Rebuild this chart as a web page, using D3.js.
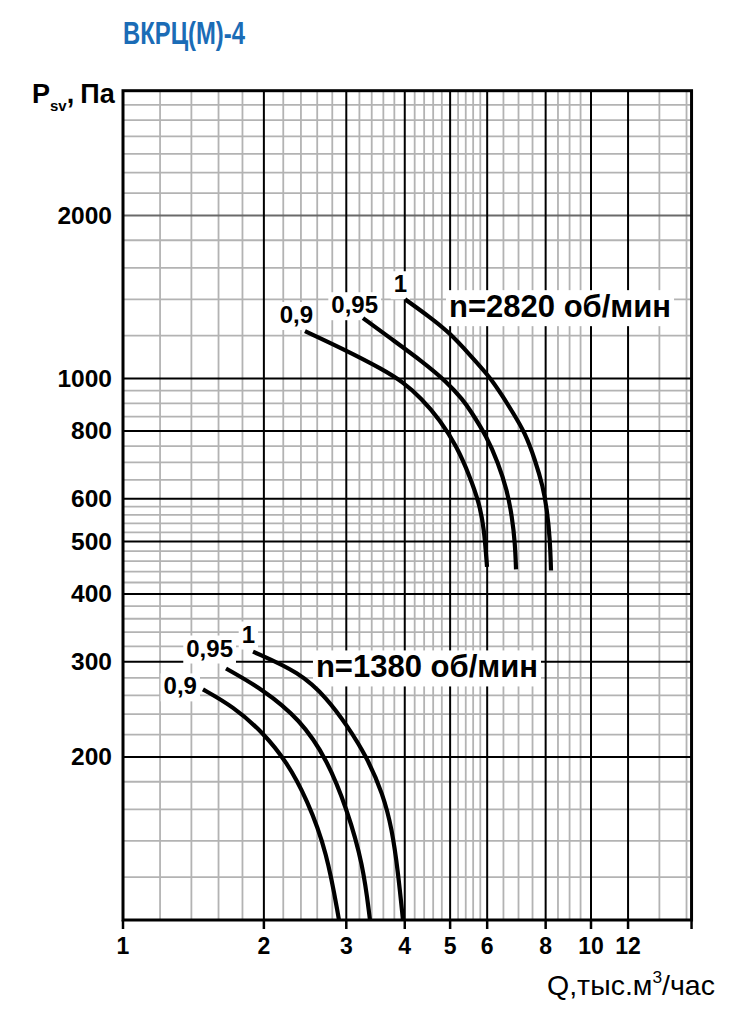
<!DOCTYPE html>
<html><head><meta charset="utf-8">
<script src="https://cdn.jsdelivr.net/npm/d3@7"></script>
<style>
body{margin:0;background:#fff}
svg{display:block}
text{font-family:"Liberation Sans",Arial,Helvetica,sans-serif}
</style>
</head><body>
<svg id="chart" width="750" height="1016"></svg>
<script>
// ---- axes / grid data ----
const xMajor = [2, 3, 4, 5, 6, 8, 10, 12];
const xMinor = [1.2, 1.4, 1.6, 1.8, 2.2, 2.4, 2.6, 2.8, 3.2, 3.4, 3.6, 3.8, 4.2, 4.4, 4.6, 4.8,
                5.2, 5.4, 5.6, 5.8, 6.5, 7, 7.5, 8.5, 9, 9.5, 14, 16];
const xTickLabels = [1, 2, 3, 4, 5, 6, 8, 10, 12];
const yMajor = [200, 300, 400, 500, 600, 800, 1000];
const yMid = [2000];
const yMinor = [120, 140, 160, 180, 220, 240, 260, 280, 320, 340, 360, 380, 420, 440, 460, 480,
                520, 540, 560, 580, 650, 700, 750, 850, 900, 950, 1200, 1400, 1600, 1800,
                2200, 2400, 2600, 2800, 3000, 3200];
const yTickLabels = [200, 300, 400, 500, 600, 800, 1000, 2000];
const xDomain = [1, 16.4];
const yDomain = [100, 3400];

// ---- curves: n = 2820 rpm ----
const hi100Q = [4.005, 4.529, 4.996, 5.514, 6.084, 6.486, 6.813, 7.228, 7.592, 7.898, 8.054, 8.174, 8.214];
const hi100P = [1401, 1298, 1213, 1105, 1006, 925, 864, 794, 708, 631, 572, 504, 442];
const hi095Q = [3.257, 3.721, 4.375, 4.923, 5.327, 5.514, 5.995, 6.329, 6.614, 6.780, 6.881, 6.915];
const hi095P = [1293, 1188, 1073, 985, 913, 875, 780, 699, 623, 556, 497, 444];
const hi090Q = [2.448, 2.952, 3.594, 3.965, 4.333, 4.757, 5.172, 5.514, 5.763, 5.906, 5.995];
const hi090P = [1223, 1134, 1039, 985, 920.5, 839, 748, 658, 590, 532, 449];
// ---- curves: n = 1380 rpm ----
const lo100Q = [1.896, 2.389, 2.729, 3.010, 3.322, 3.594, 3.757, 3.870, 3.965];
const lo100P = [313, 286.5, 256.6, 228.8, 199.8, 170.7, 147.2, 122.6, 100];
const lo095Q = [1.660, 1.991, 2.389, 2.729, 3.010, 3.257, 3.371];
const lo095P = [291.4, 266.6, 234.7, 198.1, 160.2, 126.9, 100];
const lo090Q = [1.482, 1.718, 1.991, 2.241, 2.473, 2.729, 2.894];
const lo090P = [266.6, 248, 222.1, 195.6, 167.1, 133.4, 100];

// ---- labels ----
const curveLabelText = ["0,9", "0,95", "1", "0,9", "0,95", "1"];
const curveLabelQ = [2.547, 3.507, 4.045, 1.439, 1.718, 1.915];
const curveLabelP = [1266, 1320, 1443, 261, 306.6, 325.4];
const speedText = ["n=2820 об/мин", "n=1380 об/мин"];
const speedQ = [4.973, 2.584];
const speedP = [1298, 280.5];

const svg = d3.select("#chart");
const x = d3.scaleLog().domain([1, 10]).range([123, 591]);
const y = d3.scaleLog().domain([100, 1000]).range([920, 378.5]);
const X0 = x(xDomain[0]), X1 = x(xDomain[1]), Y0 = y(yDomain[0]), Y1 = y(yDomain[1]);

const g = svg.append("g");
// minor grid
g.selectAll(".vmin").data(xMinor).join("line")
  .attr("x1", d => x(d)).attr("x2", d => x(d)).attr("y1", Y1).attr("y2", Y0)
  .attr("stroke", "#b3b3b3").attr("stroke-width", 1.8);
g.selectAll(".hmin").data(yMinor).join("line")
  .attr("x1", X0).attr("x2", X1).attr("y1", d => y(d)).attr("y2", d => y(d))
  .attr("stroke", "#b3b3b3").attr("stroke-width", 1.8);
g.selectAll(".hmid").data(yMid).join("line")
  .attr("x1", X0).attr("x2", X1).attr("y1", d => y(d)).attr("y2", d => y(d))
  .attr("stroke", "#6a6a6a").attr("stroke-width", 2);
// major grid
g.selectAll(".vmaj").data(xMajor).join("line")
  .attr("x1", d => x(d)).attr("x2", d => x(d)).attr("y1", Y1).attr("y2", Y0)
  .attr("stroke", "#000").attr("stroke-width", 2);
g.selectAll(".hmaj").data(yMajor).join("line")
  .attr("x1", X0).attr("x2", X1).attr("y1", d => y(d)).attr("y2", d => y(d))
  .attr("stroke", "#000").attr("stroke-width", 2);
// frame
g.append("rect").attr("x", X0).attr("y", Y1).attr("width", X1 - X0).attr("height", Y0 - Y1)
  .attr("fill", "none").attr("stroke", "#000").attr("stroke-width", 3);

// x ticks
const tickVals = xTickLabels.concat([xDomain[1]]);
g.selectAll(".xt").data(tickVals).join("line")
  .attr("x1", d => x(d)).attr("x2", d => x(d)).attr("y1", Y0).attr("y2", Y0 + 9)
  .attr("stroke", "#000").attr("stroke-width", 2.5);
g.selectAll(".xl").data(xTickLabels).join("text")
  .attr("x", d => x(d)).attr("y", 954).attr("text-anchor", "middle")
  .attr("font-size", 23).attr("font-weight", "bold").text(d => d);
g.selectAll(".yl").data(yTickLabels).join("text")
  .attr("x", 112).attr("y", d => y(d) + 8.5).attr("text-anchor", "end")
  .attr("font-size", 24.5).attr("font-weight", "bold").text(d => d);

// white label backgrounds then curves then text
const labels = [];
curveLabelText.forEach((t, i) => labels.push({t, q: curveLabelQ[i], p: curveLabelP[i], anchor: "end", size: 24}));
speedText.forEach((t, i) => labels.push({t, q: speedQ[i], p: speedP[i], anchor: "start", size: 31}));

const bgLayer = svg.append("g");
const curveLayer = svg.append("g");
const textLayer = svg.append("g");

const texts = textLayer.selectAll("text").data(labels).join("text")
  .attr("x", d => x(d.q)).attr("y", d => y(d.p))
  .attr("text-anchor", d => d.anchor).attr("font-size", d => d.size)
  .attr("font-weight", "bold").text(d => d.t);
texts.each(function() {
  const b = this.getBBox();
  bgLayer.append("rect").attr("x", b.x - 3).attr("y", b.y + 1).attr("width", b.width + 6).attr("height", b.height + 1)
    .attr("fill", "#fff");
});

const series = [[hi100Q, hi100P], [hi095Q, hi095P], [hi090Q, hi090P],
                [lo100Q, lo100P], [lo095Q, lo095P], [lo090Q, lo090P]];
const line = d3.line().x(d => x(d[0])).y(d => y(d[1])).curve(d3.curveBasis);
curveLayer.selectAll("path").data(series).join("path")
  .attr("d", s => line(s[0].map((q, i) => [q, s[1][i]])))
  .attr("fill", "none").attr("stroke", "#000").attr("stroke-width", 4.2);

// title
svg.append("text").attr("x", 123).attr("y", 44)
  .attr("font-family", "'Liberation Sans Narrow','Liberation Sans',Arial,sans-serif")
  .attr("font-size", 32).attr("font-weight", "bold").attr("fill", "#1b6cb6")
  .attr("textLength", 122).attr("lengthAdjust", "spacingAndGlyphs")
  .text("ВКРЦ(М)-4");

// y axis title (single text element with subscript)
const yt = svg.append("text").attr("x", 32).attr("y", 103).attr("font-weight", "bold").attr("font-size", 27);
yt.append("tspan").text("P");
yt.append("tspan").attr("font-size", 15).attr("dx", 0).attr("dy", 8).text("sv");
yt.append("tspan").attr("dy", -8).attr("dx", 0).text(",");
yt.append("tspan").attr("dx", 6).text("Па");

// x axis title
const xt = svg.append("text").attr("x", 547).attr("y", 995).attr("font-size", 28);
xt.append("tspan").text("Q,тыс.м");
xt.append("tspan").attr("font-size", 17).attr("dy", -12).text("3");
xt.append("tspan").attr("dy", 12).text("/час");
const w = xt.node().getComputedTextLength();
xt.attr("transform", `translate(547,0) scale(${168 / w},1) translate(-547,0)`);
</script>
</body></html>
